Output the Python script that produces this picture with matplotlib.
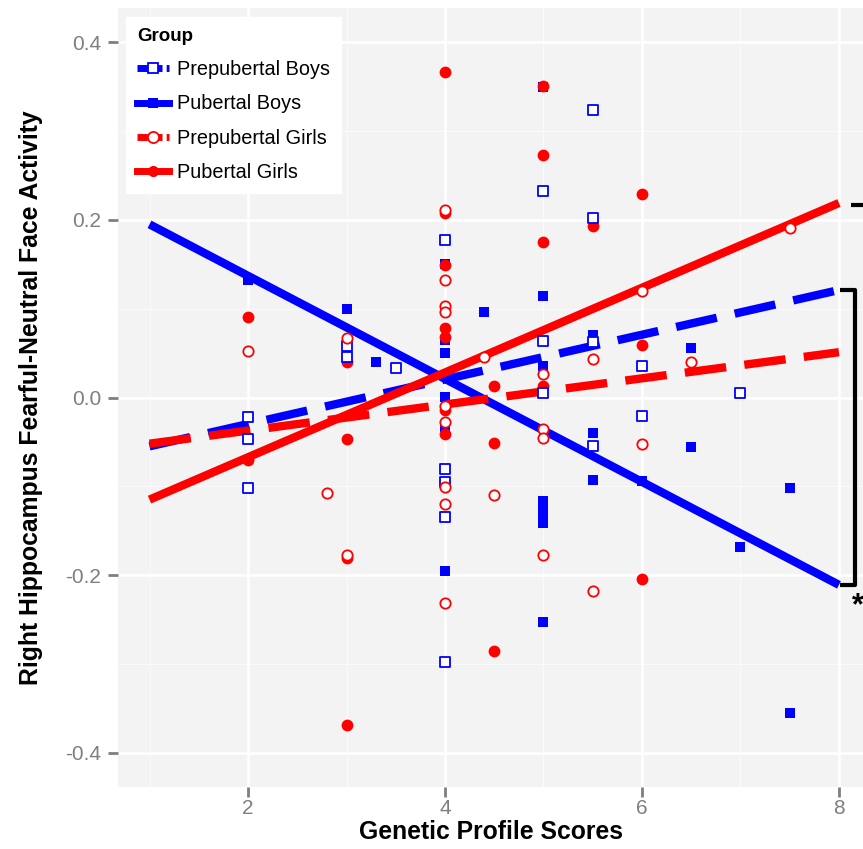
import matplotlib
matplotlib.use("Agg")
import matplotlib.pyplot as plt
from matplotlib.lines import Line2D

plt.rcParams['font.family'] = ['Liberation Sans', 'DejaVu Sans']

# data
x_prepub_boys = [2, 2, 2, 3, 3, 3.5, 4, 4, 4, 4, 4, 5, 5, 5, 5.5, 5.5, 5.5, 5.5, 6, 6, 7]
y_prepub_boys = [-0.022, -0.047, -0.102, 0.058, 0.046, 0.033, 0.177, -0.080, -0.095, -0.135, -0.298,
                 0.232, 0.064, 0.005, 0.324, 0.202, 0.062, -0.055, 0.035, -0.021, 0.005]

x_pub_boys = [2, 3, 3.3, 4, 4, 4, 4, 4, 4, 4.4, 5, 5, 5, 5, 5, 5, 5, 5,
              5.5, 5.5, 5.5, 6, 6.5, 6.5, 7, 7.5, 7.5]
y_pub_boys = [0.132, 0.100, 0.040, 0.150, 0.065, 0.050, 0.001, -0.033, -0.195, 0.096,
              0.350, 0.114, 0.035, -0.117, -0.125, -0.130, -0.141, -0.253,
              0.070, -0.040, -0.093, -0.094, 0.056, -0.056, -0.168, -0.102, -0.355]

x_prepub_girls = [2, 2.8, 3, 3, 4, 4, 4, 4, 4, 4, 4, 4, 4, 4.4, 4.5, 5, 5, 5, 5,
                  5.5, 5.5, 6, 6, 6.5, 7.5]
y_prepub_girls = [0.052, -0.107, 0.067, -0.177, 0.211, 0.132, 0.103, 0.096, -0.010, -0.028,
                  -0.101, -0.120, -0.231, 0.046, -0.110, 0.027, -0.035, -0.046, -0.177,
                  0.043, -0.218, 0.120, -0.052, 0.040, 0.191]

x_pub_girls = [2, 2, 3, 3, 3, 3, 4, 4, 4, 4, 4, 4, 4, 4.5, 4.5, 4.5, 5, 5, 5, 5,
               5.5, 6, 6, 6]
y_pub_girls = [0.091, -0.070, 0.040, -0.047, -0.181, -0.369, 0.366, 0.208, 0.149, 0.078,
               0.068, -0.014, -0.041, 0.013, -0.051, -0.286, 0.351, 0.273, 0.175, 0.013,
               0.193, 0.229, 0.059, -0.204]

# fitted lines (values at x = 1 and x = 8)
fit_x = [1, 8]
fit_prepub_boys = [-0.055, 0.121]
fit_pub_boys = [0.195, -0.211]
fit_prepub_girls = [-0.052, 0.051]
fit_pub_girls = [-0.115, 0.219]

group_names = ["Prepubertal Boys", "Pubertal Boys", "Prepubertal Girls", "Pubertal Girls"]
x_ticks = [2, 4, 6, 8]
y_ticks = [-0.4, -0.2, 0.0, 0.2, 0.4]

BLUE = "#0000FF"
RED = "#FF0000"

fig = plt.figure(figsize=(8.63, 8.49), dpi=100)
ax = fig.add_axes([118 / 863, 62 / 849, 745 / 863, 779 / 849])
ax.set_facecolor("#F3F3F3")
ax.set_xlim(0.68, 8.244)
ax.set_ylim(-0.4386, 0.4386)

# grid like ggplot
for v in [1, 3, 5, 7]:
    ax.axvline(v, color="white", lw=0.8, alpha=0.6, zorder=0)
for v in [-0.3, -0.1, 0.1, 0.3]:
    ax.axhline(v, color="white", lw=0.8, alpha=0.6, zorder=0)
for v in x_ticks:
    ax.axvline(v, color="white", lw=1.8, zorder=0)
for v in y_ticks:
    ax.axhline(v, color="white", lw=1.8, zorder=0)

for s in ax.spines.values():
    s.set_visible(False)

# filled points under the lines, open points on top
ax.scatter(x_pub_boys, y_pub_boys, marker="s", s=55, color=BLUE, linewidths=0, zorder=2)
ax.scatter(x_pub_girls, y_pub_girls, marker="o", s=72, color=RED, linewidths=0, zorder=2)

dash = (5.0, 2.2)
ax.plot(fit_x, fit_prepub_boys, color=BLUE, lw=6, dashes=dash, solid_capstyle="butt", zorder=3)
ax.plot(fit_x, fit_pub_boys, color=BLUE, lw=6, solid_capstyle="butt", zorder=3)
ax.plot(fit_x, fit_prepub_girls, color=RED, lw=6, dashes=dash, solid_capstyle="butt", zorder=3)
ax.plot(fit_x, fit_pub_girls, color=RED, lw=6, solid_capstyle="butt", zorder=3)

ax.scatter(x_prepub_boys, y_prepub_boys, marker="s", s=42, facecolor="white", edgecolor=BLUE,
           linewidths=1.3, zorder=4)
ax.scatter(x_prepub_girls, y_prepub_girls, marker="o", s=55, facecolor="white", edgecolor=RED,
           linewidths=1.3, zorder=4)

# significance bracket on the right
bk = dict(color="black", lw=3, solid_capstyle="butt", clip_on=False, zorder=5)
ax.plot([8.12, 8.26], [0.217, 0.217], **bk)
ax.plot([8.01, 8.165, 8.165, 8.01], [0.121, 0.121, -0.211, -0.211], **bk)
ax.text(8.19, -0.235, "*", fontsize=22, fontweight="bold", ha="center", va="center")

ax.set_xticks(x_ticks)
ax.set_xticklabels([str(v) for v in x_ticks])
ax.set_yticks(y_ticks)
ax.set_yticklabels(["%.1f" % v for v in y_ticks])
ax.tick_params(axis="both", colors="#7F7F7F", labelsize=15, length=7, width=2)
ax.tick_params(axis="x", pad=2)
ax.tick_params(axis="y", pad=5)

ax.set_xlabel("Genetic Profile Scores", fontsize=17.8, fontweight="bold", labelpad=1)
ax.set_ylabel("Right Hippocampus Fearful-Neutral Face Activity", fontsize=17.8, fontweight="bold",
              labelpad=16)

handles = [
    Line2D([], [], color=BLUE, lw=5, dashes=(1.5, 0.6), marker="s", markersize=7,
           markerfacecolor="white", markeredgecolor=BLUE, markeredgewidth=1.3),
    Line2D([], [], color=BLUE, lw=5, marker="s", markersize=7, markeredgewidth=0),
    Line2D([], [], color=RED, lw=5, dashes=(1.5, 0.6), marker="o", markersize=8,
           markerfacecolor="white", markeredgecolor=RED, markeredgewidth=1.3),
    Line2D([], [], color=RED, lw=5, marker="o", markersize=8, markeredgewidth=0),
]
leg = ax.legend(handles, group_names, title="Group", loc="upper left",
                bbox_to_anchor=(0.0107, 0.988), borderaxespad=0, frameon=True,
                fancybox=False, framealpha=1, edgecolor="white", fontsize=14.3,
                title_fontproperties={"weight": "bold", "size": 13.5},
                handlelength=1.6, handletextpad=0.4, labelspacing=0.76, borderpad=0.55)
leg._legend_box.align = "left"
leg.set_zorder(10)

fig.savefig("out.png", dpi=100)
